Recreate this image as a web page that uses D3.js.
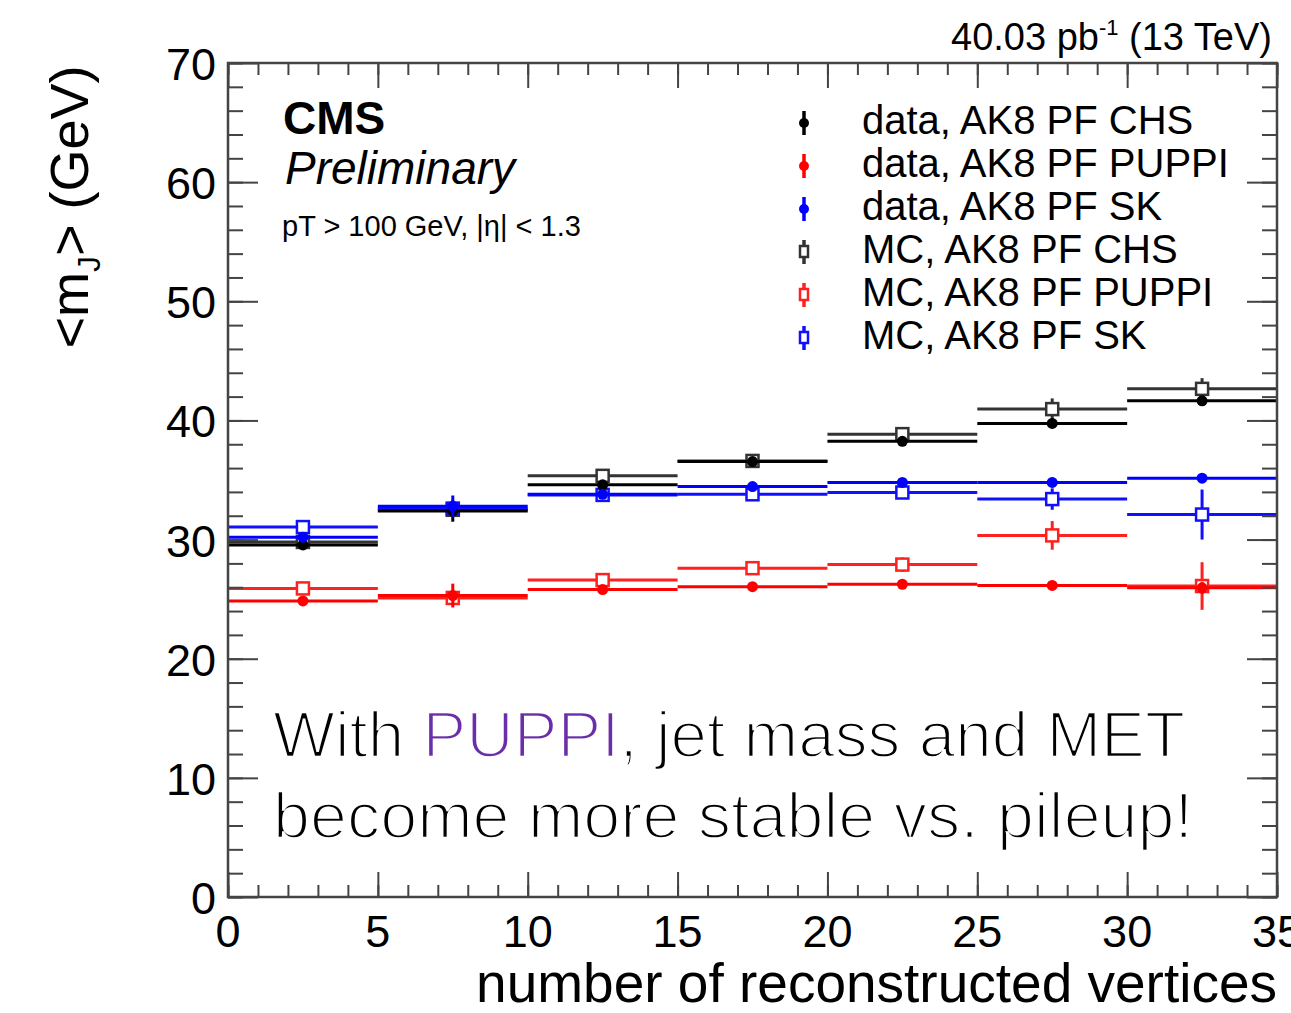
<!DOCTYPE html>
<html>
<head>
<meta charset="utf-8">
<script src="https://cdn.jsdelivr.net/npm/d3@7"></script>
<style>
  body { margin: 0; background: #fff; }
  text { font-family: "Liberation Sans", Arial, sans-serif; }
</style>
</head>
<body>
<div id="chart"></div>
<script>
// bins of number of reconstructed vertices
var binEdges = [0, 5, 10, 15, 20, 25, 30, 35];

// <mJ> per bin
var dataCHS   = [29.55, 32.4, 34.6, 36.55, 38.25, 39.75, 41.65];
var dataCHSErr = [0.3, 0.9, 0.3, 0.3, 0.3, 0.4, 0.4];
var dataPUPPI = [24.85, 25.3, 25.8, 26.05, 26.25, 26.15, 25.95];
var dataPUPPIErr = [0.3, 1.0, 0.3, 0.3, 0.3, 0.4, 0.5];
var dataSK    = [30.2, 32.8, 33.8, 34.45, 34.8, 34.8, 35.15];
var dataSKErr = [0.3, 0.9, 0.3, 0.3, 0.3, 0.4, 0.4];
var mcCHS     = [29.8, 32.5, 35.35, 36.6, 38.85, 40.95, 42.65];
var mcCHSErr  = [0.3, 0.6, 0.4, 0.4, 0.5, 0.9, 0.9];
var mcPUPPI   = [25.9, 25.1, 26.6, 27.6, 27.9, 30.35, 26.1];
var mcPUPPIErr = [0.3, 0.6, 0.4, 0.4, 0.6, 1.2, 2.0];
var mcSK      = [31.05, 32.6, 33.75, 33.8, 33.95, 33.4, 32.1];
var mcSKErr   = [0.3, 0.5, 0.4, 0.4, 0.5, 0.9, 2.1];

var legendLabels = ["data, AK8 PF CHS", "data, AK8 PF PUPPI", "data, AK8 PF SK",
                    "MC, AK8 PF CHS", "MC, AK8 PF PUPPI", "MC, AK8 PF SK"];
var yTicks = [0, 10, 20, 30, 40, 50, 60, 70];
var xTicks = [0, 5, 10, 15, 20, 25, 30, 35];

var svgWidth = 1291;
var svgHeight = 1013;

var margin = {top: 63, right: 14, bottom: 116, left: 228};
var width = svgWidth - margin.left - margin.right;
var height = svgHeight - margin.top - margin.bottom;

var svg = d3.select("#chart")
  .append("svg")
  .attr("width", svgWidth)
  .attr("height", svgHeight);

var chartGroup = svg.append("g")
  .attr("transform", `translate(${margin.left}, ${margin.top})`);

var xScale = d3.scaleLinear().domain([0, 35]).range([0, width]);
var yScale = d3.scaleLinear().domain([0, 70]).range([height, 0]);

// MC drawn underneath, data on top
var series = [
  {vals: mcCHS, err: mcCHSErr, color: "#333", mc: true},
  {vals: mcSK, err: mcSKErr, color: "#1010ff", mc: true},
  {vals: mcPUPPI, err: mcPUPPIErr, color: "#ff2020", mc: true},
  {vals: dataCHS, err: dataCHSErr, color: "#000", mc: false},
  {vals: dataSK, err: dataSKErr, color: "#0000ff", mc: false},
  {vals: dataPUPPI, err: dataPUPPIErr, color: "#ff0000", mc: false}
];

series.forEach(function(s) {
  var pts = s.vals.map(function(v, i) {
    return {lo: binEdges[i], hi: binEdges[i + 1], v: v, e: s.err[i]};
  });
  var g = chartGroup.append("g");
  g.selectAll("line.h").data(pts).enter().append("line")
    .attr("x1", d => xScale(d.lo))
    .attr("x2", d => xScale(d.hi))
    .attr("y1", d => yScale(d.v))
    .attr("y2", d => yScale(d.v))
    .attr("stroke", s.color)
    .attr("stroke-width", 3);
  g.selectAll("line.v").data(pts).enter().append("line")
    .attr("x1", d => xScale((d.lo + d.hi) / 2))
    .attr("x2", d => xScale((d.lo + d.hi) / 2))
    .attr("y1", d => yScale(d.v - d.e))
    .attr("y2", d => yScale(d.v + d.e))
    .attr("stroke", s.color)
    .attr("stroke-width", 3);
  if (s.mc) {
    g.selectAll("rect").data(pts).enter().append("rect")
      .attr("x", d => xScale((d.lo + d.hi) / 2) - 6)
      .attr("y", d => yScale(d.v) - 6)
      .attr("width", 12)
      .attr("height", 12)
      .attr("fill", "#fff")
      .attr("stroke", s.color)
      .attr("stroke-width", 2.5);
  } else {
    g.selectAll("circle").data(pts).enter().append("circle")
      .attr("cx", d => xScale((d.lo + d.hi) / 2))
      .attr("cy", d => yScale(d.v))
      .attr("r", 5.5)
      .attr("fill", s.color);
  }
});

// ticks on all four sides
function tickAxis(axis, vals, size) {
  return axis.tickValues(vals).tickSize(size).tickFormat("");
}
var xMinor = d3.range(0, 36, 1);
var yMinor = d3.range(0, 71, 2);

var axesG = chartGroup.append("g").attr("class", "ticks");
axesG.append("g").attr("transform", `translate(0, ${height})`)
  .call(tickAxis(d3.axisBottom(xScale), xMinor, -12));
axesG.append("g").attr("transform", `translate(0, ${height})`)
  .call(tickAxis(d3.axisBottom(xScale), xTicks, -25));
axesG.append("g")
  .call(tickAxis(d3.axisTop(xScale), xMinor, -12));
axesG.append("g")
  .call(tickAxis(d3.axisTop(xScale), xTicks, -25));
axesG.append("g")
  .call(tickAxis(d3.axisLeft(yScale), yMinor, -15));
axesG.append("g")
  .call(tickAxis(d3.axisLeft(yScale), yTicks, -30));
axesG.append("g").attr("transform", `translate(${width}, 0)`)
  .call(tickAxis(d3.axisRight(yScale), yMinor, -15));
axesG.append("g").attr("transform", `translate(${width}, 0)`)
  .call(tickAxis(d3.axisRight(yScale), yTicks, -30));
axesG.selectAll("path.domain").remove();
axesG.selectAll("line").attr("stroke", "#444").attr("stroke-width", 2);

// frame
chartGroup.append("rect")
  .attr("width", width)
  .attr("height", height)
  .attr("fill", "none")
  .attr("stroke", "#444")
  .attr("stroke-width", 2.5);

// tick labels
chartGroup.append("g").selectAll("text")
  .data(xTicks).enter().append("text")
  .attr("x", d => xScale(d))
  .attr("y", height + 50)
  .attr("text-anchor", "middle")
  .attr("font-size", "45px")
  .text(d => d);

chartGroup.append("g").selectAll("text")
  .data(yTicks).enter().append("text")
  .attr("x", -12)
  .attr("y", d => yScale(d) + 17)
  .attr("text-anchor", "end")
  .attr("font-size", "45px")
  .text(d => d);

// axis titles
svg.append("text")
  .attr("x", 1277)
  .attr("y", 1002)
  .attr("text-anchor", "end")
  .attr("font-size", "55px")
  .text("number of reconstructed vertices");

var yTitle = svg.append("text")
  .attr("transform", "translate(88, 207) rotate(-90)")
  .attr("text-anchor", "middle")
  .attr("font-size", "54px");
yTitle.append("tspan").text("<m");
yTitle.append("tspan").attr("font-size", "32px").attr("dy", 12).text("J");
yTitle.append("tspan").attr("dy", -12).text("> (GeV)");

// lumi label
var lumi = svg.append("text")
  .attr("x", 1272)
  .attr("y", 50)
  .attr("text-anchor", "end")
  .attr("font-size", "38px");
lumi.append("tspan").text("40.03 pb");
lumi.append("tspan").attr("font-size", "22px").attr("dy", -15).text("-1");
lumi.append("tspan").attr("dy", 15).text(" (13 TeV)");

// CMS labels
svg.append("text")
  .attr("x", 283).attr("y", 134)
  .attr("font-size", "46px")
  .attr("font-weight", "bold")
  .text("CMS");
svg.append("text")
  .attr("x", 285).attr("y", 184)
  .attr("font-size", "46px")
  .attr("font-style", "italic")
  .text("Preliminary");
svg.append("text")
  .attr("x", 282).attr("y", 236)
  .attr("font-size", "29px")
  .text("pT > 100 GeV, |η| < 1.3");

// legend
var legendSeries = [
  {color: "#000", mc: false}, {color: "#ff0000", mc: false}, {color: "#0000ff", mc: false},
  {color: "#333", mc: true}, {color: "#ff2020", mc: true}, {color: "#1010ff", mc: true}
];
var legend = svg.append("g");
legendSeries.forEach(function(s, i) {
  var cy = 123 + i * 43;
  legend.append("line")
    .attr("x1", 804).attr("x2", 804)
    .attr("y1", cy - 12).attr("y2", cy + 12)
    .attr("stroke", s.color).attr("stroke-width", 3.5);
  if (s.mc) {
    legend.append("rect")
      .attr("x", 800).attr("y", cy - 6)
      .attr("width", 8).attr("height", 11)
      .attr("fill", "#fff").attr("stroke", s.color).attr("stroke-width", 2.5);
  } else {
    legend.append("circle")
      .attr("cx", 804).attr("cy", cy).attr("r", 5).attr("fill", s.color);
  }
  legend.append("text")
    .attr("x", 862).attr("y", cy + 11)
    .attr("font-size", "40px")
    .text(legendLabels[i]);
});

// annotation (thin light look: white outline eats into the glyphs)
var note1 = svg.append("text")
  .attr("x", 273).attr("y", 757)
  .attr("font-size", "64px")
  .attr("stroke", "#fff")
  .attr("stroke-width", 2.4)
  .attr("textLength", 912)
  .attr("lengthAdjust", "spacingAndGlyphs");
note1.append("tspan").text("With ");
note1.append("tspan").attr("fill", "#6a2fa8").text("PUPPI");
note1.append("tspan").text(", jet mass and MET");

svg.append("text")
  .attr("x", 273).attr("y", 838)
  .attr("font-size", "64px")
  .attr("stroke", "#fff")
  .attr("stroke-width", 2.4)
  .attr("textLength", 920)
  .attr("lengthAdjust", "spacingAndGlyphs")
  .text("become more stable vs. pileup!");
</script>
</body>
</html>
